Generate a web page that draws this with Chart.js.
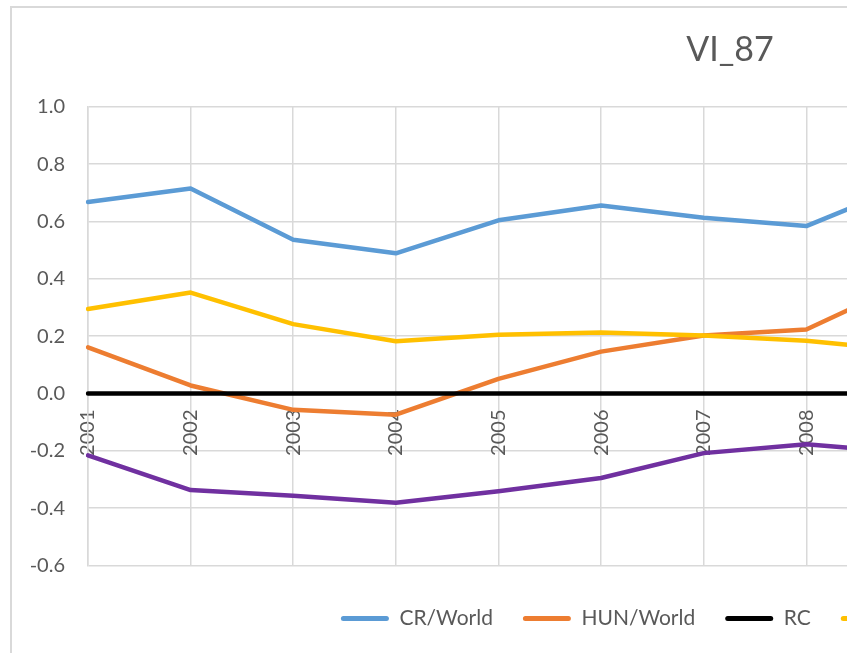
<!DOCTYPE html>
<html>
<head>
<meta charset="utf-8">
<title>VI_87</title>
<script src="https://cdn.jsdelivr.net/npm/chart.js@4.4.1/dist/chart.umd.min.js"></script>
<style>
    body { margin: 0; background: #fff; }
    /* the reference is a crop of a wider Excel chart */
    #clip { position: absolute; left: 0; top: 0; width: 847px; height: 653px; overflow: hidden; }
    #frame { position: absolute; left: 10px; top: 6px; width: 1440px; height: 700px; border: 2px solid #d9d9d9; }
    #chart { position: absolute; left: 0; top: 0; }
</style>
</head>
<body>
<div id="clip">
    <div id="frame">
        <canvas id="chart" width="1436" height="631"></canvas>
    </div>
</div>
<script>
    'use strict';

    // Categories (only 2001-2009 are visible in the crop)
    const years = ['2001', '2002', '2003', '2004', '2005', '2006', '2007',
        '2008', '2009', '2010', '2011', '2012', '2013', '2014'];

    // Series values
    const crWorld = [0.668, 0.715, 0.536, 0.489, 0.604, 0.656, 0.613, 0.584, 0.73,
        null, null, null, null, null];
    const hunWorld = [0.161, 0.028, -0.057, -0.074, 0.051, 0.146, 0.202, 0.223, 0.39,
        null, null, null, null, null];
    const rc = [0, 0, 0, 0, 0, 0, 0, 0, 0, 0, 0, 0, 0, 0];
    const skWorld = [0.295, 0.352, 0.242, 0.182, 0.205, 0.213, 0.202, 0.184, 0.149,
        null, null, null, null, null];
    const plWorld = [-0.216, -0.337, -0.357, -0.381, -0.341, -0.295, -0.208, -0.177, -0.207,
        null, null, null, null, null];

    const textColor = '#595959';
    const gridColor = '#d9d9d9';

    // later series are drawn on top, like in Excel
    function line(label, data, color, order) {
        return {
            label: label,
            data: data,
            borderColor: color,
            backgroundColor: color,
            borderWidth: 4.5,
            borderJoinStyle: 'round',
            borderCapStyle: 'round',
            pointRadius: 0,
            tension: 0,
            order: order
        };
    }

    const lineData = {
        labels: years,
        datasets: [
            line('CR/World', crWorld, '#5b9bd5', 5),
            line('HUN/World', hunWorld, '#ed7d31', 4),
            line('RC', rc, '#000000', 3),
            line('SK/World', skWorld, '#ffc000', 2),
            line('PL/World', plWorld, '#7030a0', 1)
        ]
    };

    const lineOptions = {
        type: 'line',
        data: lineData,
        options: {
            responsive: false,
            animation: false,
            devicePixelRatio: 1,
            scales: {
                x: {
                    position: { y: 0 },
                    offset: false,
                    grid: { color: gridColor, lineWidth: 1.5, drawTicks: false },
                    border: { display: false },
                    ticks: {
                        color: textColor,
                        font: { family: 'Lato', size: 20 },
                        minRotation: 90,
                        maxRotation: 90,
                        autoSkip: false,
                        padding: 16
                    },
                    afterFit: function (scale) {
                        // labels hang below the zero line, no room needed at the sides
                        scale.paddingLeft = 0;
                        scale.paddingRight = 0;
                    }
                },
                y: {
                    min: -0.6,
                    max: 1.0,
                    grid: { color: gridColor, lineWidth: 1.5, drawTicks: false },
                    border: { color: gridColor, width: 1.5 },
                    ticks: {
                        stepSize: 0.2,
                        color: textColor,
                        font: { family: 'Lato', size: 20 },
                        padding: 23,
                        callback: function (v) {
                            return Math.abs(v) < 1e-9 ? '0.0' : v.toFixed(1);
                        }
                    },
                    afterFit: function (scale) {
                        scale.width = 76;
                    }
                },
                // empty strip on the right so the title sits where Excel put it
                pad: {
                    position: 'right',
                    min: 0,
                    max: 1,
                    grid: { display: false },
                    border: { display: false },
                    ticks: { display: false },
                    afterFit: function (scale) {
                        scale.width = 26;
                    }
                }
            },
            plugins: {
                tooltip: { enabled: false },
                title: {
                    display: true,
                    text: 'VI_87',
                    color: textColor,
                    font: { family: 'Lato', size: 34, weight: 'normal' },
                    padding: { top: 22, bottom: 36 }
                },
                legend: {
                    position: 'bottom',
                    fullSize: false,
                    title: { display: true, text: '', font: { size: 1, lineHeight: 1 }, padding: { top: 0, bottom: 11.5 } },
                    labels: {
                        color: textColor,
                        font: { family: 'Lato', size: 21 },
                        boxWidth: 48,
                        boxHeight: 5,
                        useBorderRadius: true,
                        borderRadius: 2.5,
                        padding: 30,
                        sort: function (a, b) {
                            return a.datasetIndex - b.datasetIndex;
                        },
                        generateLabels: function (chart) {
                            const items = Chart.defaults.plugins.legend.labels.generateLabels(chart);
                            items.forEach(function (item) {
                                item.lineWidth = 0;
                            });
                            return items;
                        }
                    }
                }
            }
        }
    };

    new Chart(document.getElementById('chart'), lineOptions);
</script>
</body>
</html>
